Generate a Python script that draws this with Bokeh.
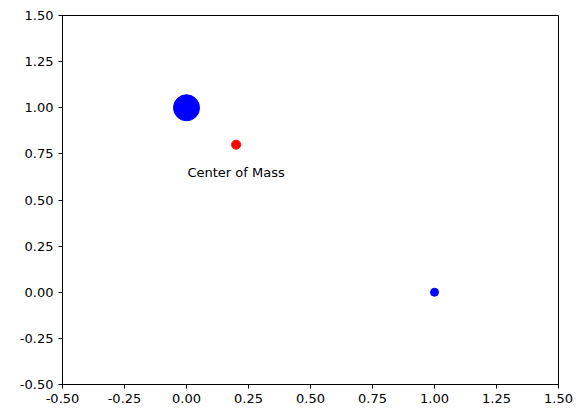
from bokeh.core.properties import value
from bokeh.embed import file_html
from bokeh.models import FixedTicker, CustomJSTickFormatter
from bokeh.plotting import figure
from bokeh.resources import INLINE

xs = [0.0, 1.0]
ys = [1.0, 0.0]
sizes = [26, 8]
com_x = [0.2]
com_y = [0.8]
label = ["Center of Mass"]
label_y = [0.65]
x_ticks = [-0.5, -0.25, 0.0, 0.25, 0.5, 0.75, 1.0, 1.25, 1.5]
y_ticks = [-0.5, -0.25, 0.0, 0.25, 0.5, 0.75, 1.0, 1.25, 1.5]

p = figure(width=575, height=410, x_range=(-0.5, 1.5), y_range=(-0.5, 1.5),
           output_backend="svg", toolbar_location=None,
           min_border_left=62, min_border_right=17, min_border_top=15, min_border_bottom=26)
p.grid.visible = False
p.outline_line_color = "black"
for ax, ticks in ((p.xaxis, x_ticks), (p.yaxis, y_ticks)):
    ax.ticker = FixedTicker(ticks=ticks)
    ax.formatter = CustomJSTickFormatter(code="return tick.toFixed(2)")
    ax.major_label_text_font = "DejaVu Sans"
    ax.major_label_text_font_size = "13px"
    ax.major_label_text_color = "black"
    ax.axis_line_color = "black"
    ax.major_tick_line_color = "black"
    ax.major_tick_out = 4
    ax.major_tick_in = 0
    ax.minor_tick_line_color = None

p.scatter(xs, ys, size=sizes, color="blue")
p.scatter(com_x, com_y, size=9, color="red")
p.text(com_x, label_y, text=label, text_align="center", text_baseline="middle",
       text_font=value("DejaVu Sans"), text_font_size="13px", text_color="black")

open("out.html", "w").write(file_html(p, INLINE))
